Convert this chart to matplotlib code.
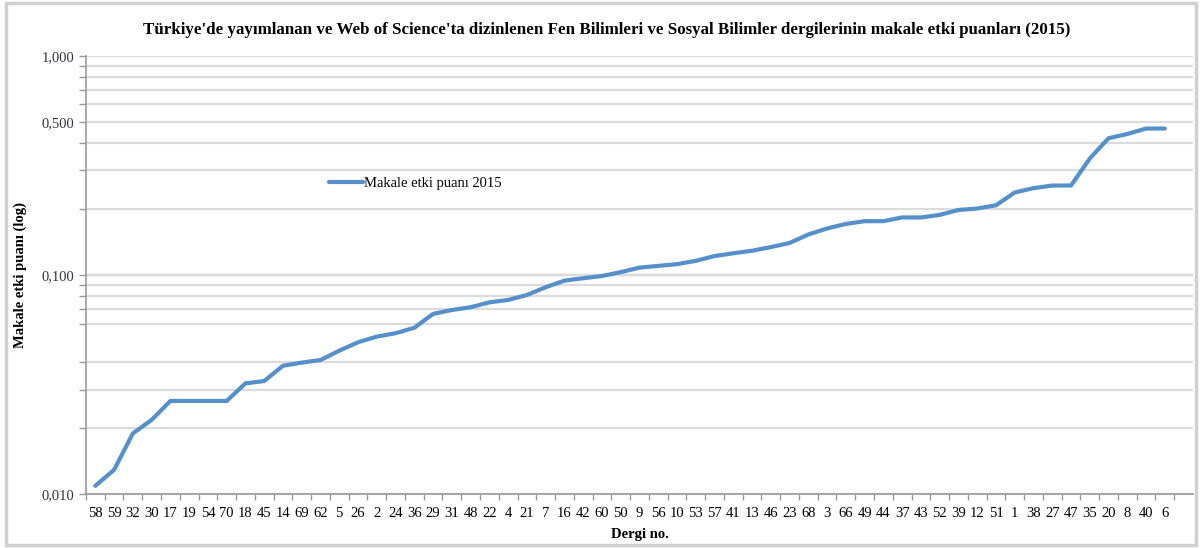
import matplotlib.pyplot as plt
from matplotlib.patches import Rectangle
from matplotlib.ticker import FixedLocator, NullFormatter

plt.rcParams['font.family'] = ['Liberation Serif', 'DejaVu Serif']

dergi = ['58', '59', '32', '30', '17', '19', '54', '70', '18', '45',
         '14', '69', '62', '5', '26', '2', '24', '36', '29', '31',
         '48', '22', '4', '21', '7', '16', '42', '60', '50', '9',
         '56', '10', '53', '57', '41', '13', '46', '23', '68', '3',
         '66', '49', '44', '37', '43', '52', '39', '12', '51', '1',
         '38', '27', '47', '35', '20', '8', '40', '6']
puan = [0.0109, 0.0129, 0.0189, 0.0218, 0.0266, 0.0266, 0.0266, 0.0266, 0.0320, 0.0328,
        0.0385, 0.0398, 0.0409, 0.0451, 0.0493, 0.0523, 0.0542, 0.0574, 0.0664, 0.0692,
        0.0712, 0.0750, 0.0769, 0.0810, 0.0879, 0.0942, 0.0966, 0.0989, 0.1030, 0.1080,
        0.1100, 0.1120, 0.1160, 0.1220, 0.1256, 0.1290, 0.1340, 0.1400, 0.1530, 0.1630,
        0.1710, 0.1760, 0.1760, 0.1830, 0.1830, 0.1880, 0.1980, 0.2010, 0.2080, 0.2380,
        0.2490, 0.2560, 0.2560, 0.3400, 0.4210, 0.4400, 0.4660, 0.4660]

ytick_vals = [0.01, 0.1, 0.5, 1.0]
ytick_labels = ['0,010', '0,100', '0,500', '1,000']

fig = plt.figure(figsize=(12.02, 5.48), dpi=100)
ax = fig.add_axes([0.0715, 0.0985, 0.921, 0.7995])

x = list(range(len(dergi)))
ax.plot(x, puan, color='#5590CB', lw=3, solid_capstyle='round',
        label='Makale etki puanı 2015', zorder=3)

ax.set_yscale('log')
ax.set_ylim(0.01, 1.0)
ax.set_xlim(-0.5, len(dergi) + 0.5)

ax.yaxis.set_major_locator(FixedLocator(ytick_vals))
ax.set_yticklabels(ytick_labels)
minor_y = [m * d for d in (0.01, 0.1) for m in range(2, 10) if m != 5]
ax.yaxis.set_minor_locator(FixedLocator(minor_y))
ax.yaxis.set_minor_formatter(NullFormatter())
ax.grid(True, axis='y', which='both', color='#dcdcdc', lw=1.6, zorder=0)
ax.axhline(0.1, color='#a8a8a8', lw=1.6, zorder=1)

ax.set_xticks(x)
ax.set_xticklabels(dergi)
ax.set_xticks([i - 0.5 for i in range(len(dergi) + 1)], minor=True)
ax.tick_params(axis='x', which='major', length=0, pad=9, labelsize=10.5)
ax.tick_params(axis='x', which='minor', length=4, color='#999999', width=1)
ax.tick_params(axis='y', which='both', length=5, color='#999999', width=1,
               labelsize=10.5, labelcolor='#333344')

for s in ['top', 'right']:
    ax.spines[s].set_visible(False)
for s in ['left', 'bottom']:
    ax.spines[s].set_color('#999999')
    ax.spines[s].set_linewidth(1.2)

ax.set_xlabel('Dergi no.', fontsize=10.5, fontweight='bold', labelpad=6)
ax.set_ylabel('Makale etki puanı (log)', fontsize=10.5, fontweight='bold', labelpad=10)
fig.text(0.505, 0.945, "Türkiye'de yayımlanan ve Web of Science'ta dizinlenen Fen Bilimleri "
         "ve Sosyal Bilimler dergilerinin makale etki puanları (2015)",
         ha='center', va='center', fontsize=12.2, fontweight='bold')

fig.legend(loc='center left', bbox_to_anchor=(0.274, 0.666), frameon=False,
           fontsize=10.5, handlelength=2.3, handletextpad=0.1, borderaxespad=0,
           borderpad=0)

fig.patches.append(Rectangle((0.005, 0.005), 0.99, 0.99, transform=fig.transFigure,
                             fill=False, edgecolor='#d0d0d0', lw=2.5))

fig.savefig('out.png', dpi=100)
